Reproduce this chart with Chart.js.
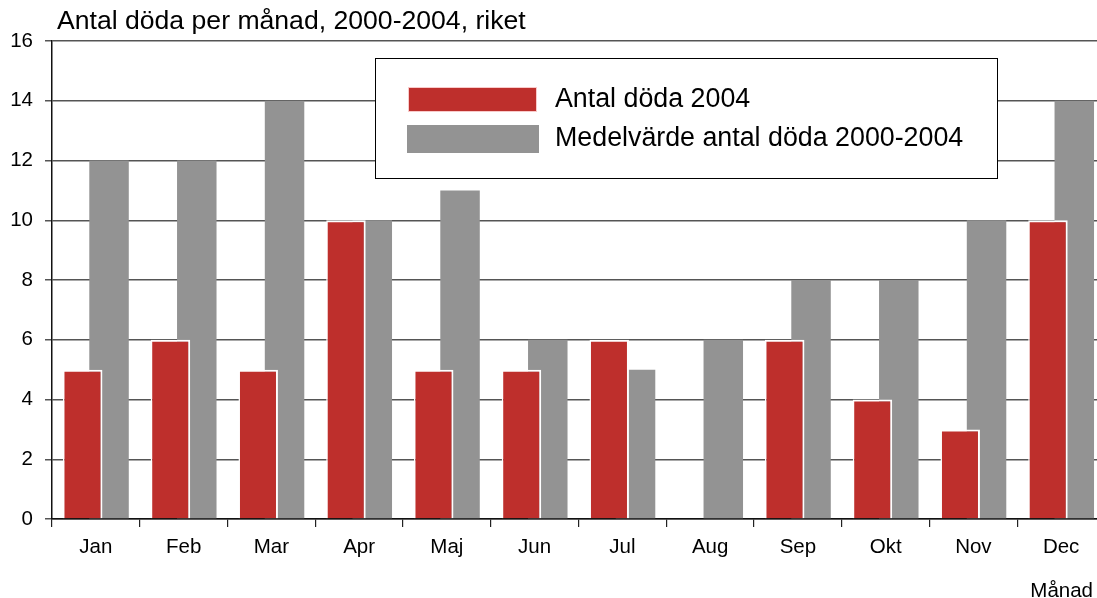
<!DOCTYPE html>
<html>
<head>
<meta charset="utf-8">
<script src="https://cdn.jsdelivr.net/npm/chart.js@4/dist/chart.umd.min.js"></script>
<style>
html,body{margin:0;padding:0;background:#fff;overflow:hidden;width:1097px;height:598px;}
#wrap{position:absolute;left:0;top:0;width:1105px;height:598px;}
</style>
</head>
<body>
<div id="wrap"><canvas id="c" width="1105" height="598"></canvas></div>
<script>
const months = ['Jan','Feb','Mar','Apr','Maj','Jun','Jul','Aug','Sep','Okt','Nov','Dec'];
const deaths2004 = [5, 6, 5, 10, 5, 5, 6, 0, 6, 4, 3, 10];
const meanDeaths = [12, 12, 14, 10, 11, 6, 5, 6, 8, 8, 10, 14];
const yTicks = [0, 2, 4, 6, 8, 10, 12, 14, 16];
const titleText = 'Antal döda per månad, 2000-2004, riket';
const xTitleText = 'Månad';
const seriesNames = ['Antal döda 2004', 'Medelvärde antal döda 2000-2004'];

const FONT = '"Liberation Sans", Arial, Helvetica, sans-serif';
const RED = '#be2f2c';
const GRAY = '#939393';

const decor = {
  id: 'decor',
  afterDraw(chart) {
    const ctx = chart.ctx;
    ctx.save();
    // title
    ctx.fillStyle = '#000';
    ctx.font = '26.6px ' + FONT;
    ctx.textAlign = 'left';
    ctx.textBaseline = 'alphabetic';
    ctx.fillText(titleText, 57, 29);
    // x axis title
    ctx.font = '20.5px ' + FONT;
    ctx.textAlign = 'right';
    ctx.fillText(xTitleText, 1093, 597);
    // legend
    const bx = 375.5, by = 58.5, bw = 622, bh = 120;
    ctx.fillStyle = '#fff';
    ctx.fillRect(bx, by, bw, bh);
    ctx.strokeStyle = '#000';
    ctx.lineWidth = 1;
    ctx.strokeRect(bx, by, bw, bh);
    const ds = chart.data.datasets;
    ctx.fillStyle = ds[0].backgroundColor;
    ctx.fillRect(408, 87, 129, 25);
    ctx.strokeStyle = 'rgba(255,220,220,0.9)';
    ctx.strokeRect(408.5, 87.5, 128, 24);
    ctx.fillStyle = ds[1].backgroundColor;
    ctx.fillRect(407, 125, 132, 28);
    ctx.fillStyle = '#000';
    ctx.font = '26.8px ' + FONT;
    ctx.textAlign = 'left';
    ctx.textBaseline = 'middle';
    ctx.fillText(ds[0].label, 555, 100);
    ctx.fillText(ds[1].label, 555, 139);
    ctx.restore();
  }
};

new Chart(document.getElementById('c'), {
  type: 'bar',
  data: {
    labels: months,
    datasets: [
      {
        label: seriesNames[0],
        data: deaths2004,
        backgroundColor: RED,
        borderColor: '#ffffff',
        borderWidth: {top: 2, left: 1.5, right: 2, bottom: 0},
        borderSkipped: 'start',
        categoryPercentage: 0.6,
        barPercentage: 1.5
      },
      {
        label: seriesNames[1],
        data: meanDeaths,
        backgroundColor: GRAY,
        borderWidth: 0,
        categoryPercentage: 0.6,
        barPercentage: 1.5
      }
    ]
  },
  options: {
    responsive: false,
    animation: false,
    events: [],
    layout: {padding: {top: 41, left: 0, right: 0, bottom: 0}},
    plugins: {legend: {display: false}, title: {display: false}, tooltip: {enabled: false}},
    scales: {
      x: {
        offset: true,
        grid: {display: true, drawOnChartArea: false, drawTicks: true, tickLength: 8, offset: true, color: '#222', lineWidth: 1.2},
        border: {display: true, color: '#111', width: 1.5},
        ticks: {color: '#000', font: {family: FONT, size: 20.5}, padding: 8, maxRotation: 0},
        afterFit(s) { s.height = 79; }
      },
      y: {
        min: 0, max: 16,
        afterBuildTicks(s) { s.ticks = yTicks.map(v => ({value: v})); },
        grid: {color: '#555', lineWidth: 1.5, drawTicks: true, tickLength: 7},
        border: {display: true, color: '#111', width: 1.5},
        ticks: {color: '#000', font: {family: FONT, size: 20.5}, padding: 12},
        afterFit(s) { s.width = 52; }
      }
    }
  },
  plugins: [decor]
});
</script>
</body>
</html>
